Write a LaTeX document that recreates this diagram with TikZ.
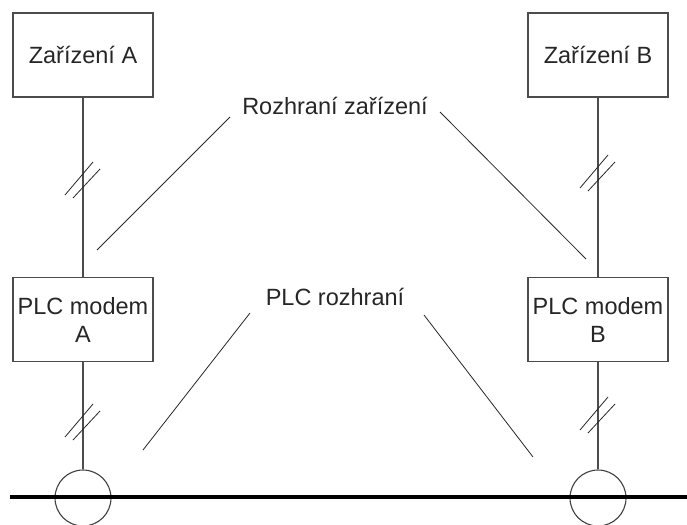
\documentclass[tikz,border=0pt]{standalone}
\usepackage{fontspec}
\setmainfont{Liberation Sans}
\begin{document}
\begin{tikzpicture}[x=1pt,y=-1pt,
  box/.style={draw=black!70,line width=1.4pt,minimum width=140pt,minimum height=84pt,inner sep=0pt,align=center,font=\fontsize{23.5}{28}\selectfont,text=black!85},
  wire/.style={draw=black!70,line width=1.4pt},
  tap/.style={draw=black!75,line width=1.1pt,circle,minimum size=56pt,inner sep=0pt},
  lab/.style={font=\fontsize{23.5}{28}\selectfont,text=black!85,inner sep=0pt},
  leader/.style={draw=black!85,line width=0.8pt},
  slash/.style={draw=black!85,line width=0.8pt}]
\useasboundingbox (0,0) rectangle (687,524);
\node[box] (za) at (83,55) {Zařízení A};
\node[box] (zb) at (598,55) {Zařízení B};
\node[box] (ma) at (83,319.5) {PLC modem\\A};
\node[box] (mb) at (598,319.5) {PLC modem\\B};
\node[tap] (ca) at (83,498) {};
\node[tap] (cb) at (598,498) {};
\coordinate (busl) at (10,497);
\coordinate (busr) at (687,497);
\draw[black,line width=3.2pt] (busl) -- (busr);
\draw[wire] (za.south) -- (ma.north);
\draw[wire] (zb.south) -- (mb.north);
\draw[wire] (ma.south) -- (ca.north);
\draw[wire] (mb.south) -- (cb.north);
% slash marks
\foreach \n/\x/\y in {s1/83/177, s2/83/419, s3/598/170, s4/598/412}{
  \coordinate (\n) at (\x,\y);
  \draw[slash] ([shift={(-18,18)}]\n) -- ([shift={(10,-15)}]\n);
  \draw[slash] ([shift={(-10,21)}]\n) -- ([shift={(17,-8)}]\n);
}
\node[lab] (ri) at (335,106) {Rozhraní zařízení};
\node[lab] (pi) at (335,297) {PLC rozhraní};
\coordinate (l1a) at (230,117); \coordinate (l1b) at (97,250);
\coordinate (l2a) at (440,112); \coordinate (l2b) at (586,259);
\coordinate (l3a) at (250,313); \coordinate (l3b) at (143,450);
\coordinate (l4a) at (424,315); \coordinate (l4b) at (533,457);
\draw[leader] (l1a) -- (l1b);
\draw[leader] (l2a) -- (l2b);
\draw[leader] (l3a) -- (l3b);
\draw[leader] (l4a) -- (l4b);
\end{tikzpicture}
\end{document}
